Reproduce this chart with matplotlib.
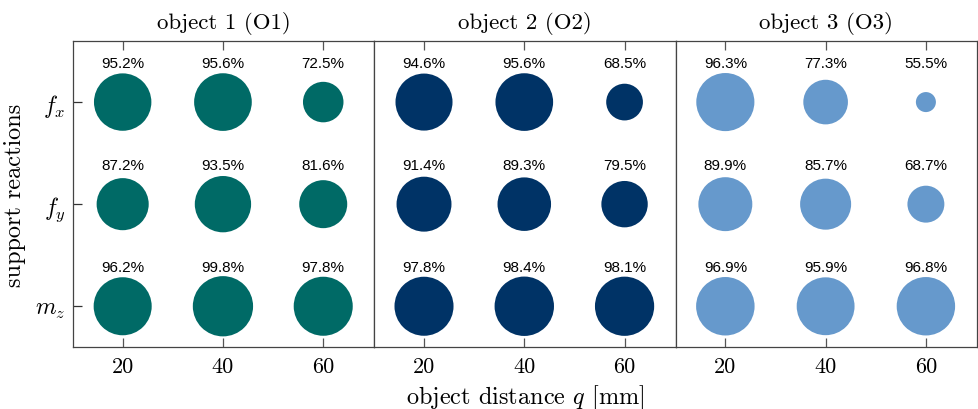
import numpy as np
import matplotlib
matplotlib.use("Agg")
import matplotlib.pyplot as plt

plt.rcParams['font.family'] = 'cmr10'
plt.rcParams['mathtext.fontset'] = 'cm'
plt.rcParams['axes.formatter.use_mathtext'] = True

objects = ['object 1 (O1)', 'object 2 (O2)', 'object 3 (O3)']
colors = ['#006a66', '#003366', '#6699cc']
distances = [20, 40, 60]
reactions = ['$f_x$', '$f_y$', '$m_z$']

# rows: f_x, f_y, m_z ; columns: q = 20, 40, 60
o1 = [[95.2, 95.6, 72.5],
      [87.2, 93.5, 81.6],
      [96.2, 99.8, 97.8]]
o2 = [[94.6, 95.6, 68.5],
      [91.4, 89.3, 79.5],
      [97.8, 98.4, 98.1]]
o3 = [[96.3, 77.3, 55.5],
      [89.9, 85.7, 68.7],
      [96.9, 95.9, 96.8]]
values = [o1, o2, o3]

fig, axes = plt.subplots(1, 3, figsize=(9.79, 4.1), dpi=100, sharey=True)
fig.subplots_adjust(left=0.0746, right=0.998, bottom=0.151, top=0.898, wspace=0)

ypos = [2, 1, 0]
for k, ax in enumerate(axes):
    vals = np.array(values[k])
    for i in range(3):
        for j in range(3):
            p = vals[i, j]
            ax.scatter(distances[j], ypos[i], s=37.8 * (p - 50), color=colors[k],
                       edgecolors='none', zorder=3)
            ax.text(distances[j], ypos[i] + 0.385, '%.1f%%' % p, ha='center', va='center',
                    fontsize=11, family='Liberation Sans', color='black')
    ax.set_xlim(10.1, 70.2)
    ax.set_ylim(-0.4, 2.6)
    ax.set_xticks(distances)
    ax.set_xticklabels([str(d) for d in distances], fontsize=16)
    ax.set_title(objects[k], fontsize=16.5, pad=9.5)
    ax.tick_params(axis='x', direction='in', top=True, length=6.5, width=0.9,
                   color='#555555', pad=7)
    ax.tick_params(axis='y', direction='in', length=6.5, width=0.9, color='#333333',
                   labelsize=17, pad=5.5)
    for sp in ax.spines.values():
        sp.set_color('#444444')
        sp.set_linewidth(0.9)
    if k > 0:
        ax.tick_params(axis='y', left=False)

axes[0].set_yticks(ypos)
axes[0].set_yticklabels(reactions)
axes[0].set_ylabel('support reactions', fontsize=17.5)
axes[0].yaxis.set_label_coords(-0.157, 0.5)
axes[1].set_xlabel('object distance $q$ [mm]', fontsize=17.5, labelpad=4)

plt.savefig('out.png', dpi=100)
